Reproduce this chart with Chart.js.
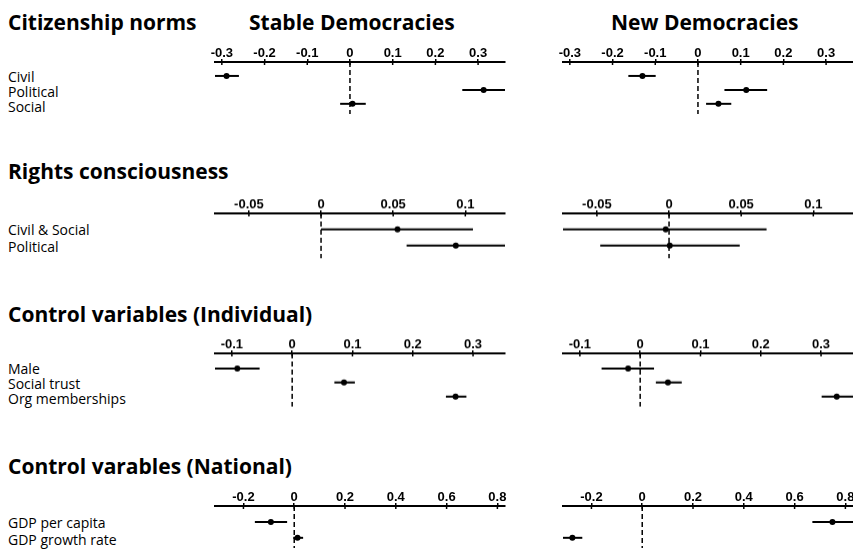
<!DOCTYPE html>
<html lang="en">
<head>
<meta charset="UTF-8">
<title>Citizenship norms - coefficient plot</title>
<script src="https://cdn.jsdelivr.net/npm/chart.js"></script>
<style>
  body { margin: 0; width: 853px; height: 552px; overflow: hidden; background: #fff; position: relative; font-family: 'Open Sans', sans-serif; color: #000; }
  .head { position: absolute; font-weight: 700; font-size: 21px; line-height: 21px; white-space: nowrap; }
  .lab { position: absolute; left: 8px; font-size: 14px; line-height: 14px; white-space: nowrap; }
  .box { position: absolute; }
</style>
</head>
<body>
<script>
// --- data ---
const columns = ['Stable Democracies', 'New Democracies'];
const sectionTitles = ['Citizenship norms', 'Rights consciousness', 'Control variables (Individual)', 'Control varables (National)'];

const normsRows = ['Civil', 'Political', 'Social'];
const normsStableEst = [-0.289, 0.313, 0.006];
const normsStableLo  = [-0.320, 0.263, -0.023];
const normsStableHi  = [-0.260, 0.363, 0.037];
const normsNewEst = [-0.130, 0.113, 0.048];
const normsNewLo  = [-0.163, 0.062, 0.019];
const normsNewHi  = [-0.099, 0.162, 0.078];

const rightsRows = ['Civil & Social', 'Political'];
const rightsStableEst = [0.053, 0.0934];
const rightsStableLo  = [0.000, 0.0593];
const rightsStableHi  = [0.1053, 0.130];
const rightsNewEst = [-0.0023, 0.0005];
const rightsNewLo  = [-0.080, -0.0477];
const rightsNewHi  = [0.0676, 0.049];

const indivRows = ['Male', 'Social trust', 'Org memberships'];
const indivStableEst = [-0.091, 0.086, 0.271];
const indivStableLo  = [-0.135, 0.070, 0.255];
const indivStableHi  = [-0.054, 0.104, 0.289];
const indivNewEst = [-0.020, 0.046, 0.326];
const indivNewLo  = [-0.064, 0.026, 0.301];
const indivNewHi  = [0.023, 0.069, 0.360];

const natRows = ['GDP per capita', 'GDP growth rate'];
const natStableEst = [-0.092, 0.013];
const natStableLo  = [-0.155, -0.004];
const natStableHi  = [-0.028, 0.035];
const natNewEst = [0.749, -0.275];
const natNewLo  = [0.670, -0.320];
const natNewHi  = [0.850, -0.236];

// axis ranges and tick steps per section
const xMins  = [-0.316, -0.0735, -0.128, -0.312];
const xMaxs  = [0.363, 0.1275, 0.353, 0.830];
const xSteps = [0.1, 0.05, 0.1, 0.2];

// --- layout ---
const colLeft = [215, 563];
const sections = [
  { title: sectionTitles[0], titleTop: 12.4, axisY: 62,    areaH: 56,   yMin: 0,     yMax: 3.73, rows: normsRows,
    panels: [[normsStableEst, normsStableLo, normsStableHi], [normsNewEst, normsNewLo, normsNewHi]] },
  { title: sectionTitles[1], titleTop: 161.4, axisY: 213.3, areaH: 48.4, yMin: 0,     yMax: 2.8,  rows: rightsRows,
    panels: [[rightsStableEst, rightsStableLo, rightsStableHi], [rightsNewEst, rightsNewLo, rightsNewHi]] },
  { title: sectionTitles[2], titleTop: 304.4, axisY: 353.3, areaH: 56.7, yMin: -0.07, yMax: 3.71, rows: indivRows,
    panels: [[indivStableEst, indivStableLo, indivStableHi], [indivNewEst, indivNewLo, indivNewHi]] },
  { title: sectionTitles[3], titleTop: 456.4, axisY: 506,   areaH: 46,   yMin: 0,     yMax: 2.64, rows: natRows,
    panels: [[natStableEst, natStableLo, natStableHi], [natNewEst, natNewLo, natNewHi]] }
];

Chart.defaults.font.family = "'Liberation Sans', Arial, sans-serif";
Chart.defaults.color = '#000';

function addText(cls, text, left, top) {
  const d = document.createElement('div');
  d.className = cls;
  d.textContent = text;
  if (left !== null) d.style.left = left + 'px';
  d.style.top = top + 'px';
  document.body.appendChild(d);
}

// column headers
addText('head', columns[0], 249, 12.4);
addText('head', columns[1], 611, 12.4);

// small marks that cross the axis line below it, like the original ticks
const crossTicks = {
  id: 'crossTicks',
  afterDraw(chart) {
    const xs = chart.scales.x;
    const ctx = chart.ctx;
    ctx.save();
    ctx.strokeStyle = '#000';
    ctx.lineWidth = 1.5;
    xs.ticks.forEach((t) => {
      const px = xs.getPixelForValue(t.value);
      ctx.beginPath();
      ctx.moveTo(px, chart.chartArea.top);
      ctx.lineTo(px, chart.chartArea.top + 3);
      ctx.stroke();
    });
    ctx.restore();
  }
};

function drawPanel(sec, si, col) {
  const [est, lo, hi] = sec.panels[col];
  const box = document.createElement('div');
  box.className = 'box';
  box.style.left = (colLeft[col] - 20) + 'px';
  box.style.top = (sec.axisY - 30) + 'px';
  box.style.width = '330px';
  box.style.height = (30 + sec.areaH) + 'px';
  const canvas = document.createElement('canvas');
  box.appendChild(canvas);
  document.body.appendChild(box);

  const datasets = [{
    // zero reference line
    data: [{ x: 0, y: sec.yMin }, { x: 0, y: sec.yMax }],
    showLine: true, borderColor: '#000', borderWidth: 1.5, borderDash: [5, 3], pointRadius: 0
  }];
  sec.rows.forEach((r, i) => {
    datasets.push({
      data: [{ x: lo[i], y: i + 1 }, { x: hi[i], y: i + 1 }],
      showLine: true, borderColor: '#000', borderWidth: 2, pointRadius: 0
    });
  });
  datasets.push({
    data: est.map((v, i) => ({ x: v, y: i + 1 })),
    pointRadius: 3, pointBackgroundColor: '#000', pointBorderWidth: 0, showLine: false
  });

  new Chart(canvas, {
    type: 'scatter',
    data: { datasets: datasets },
    plugins: [crossTicks],
    options: {
      responsive: true,
      maintainAspectRatio: false,
      animation: false,
      events: [],
      layout: { padding: { left: 20, right: 20, top: 0, bottom: 0 } },
      plugins: { legend: { display: false }, tooltip: { enabled: false } },
      scales: {
        x: {
          type: 'linear',
          position: 'top',
          min: xMins[si],
          max: xMaxs[si],
          afterFit: (scale) => { scale.height = 30; },
          border: { display: true, color: '#000', width: 2 },
          grid: { display: true, drawOnChartArea: false, drawTicks: true, tickLength: 3, color: '#000', lineWidth: 1.5 },
          ticks: {
            stepSize: xSteps[si],
            includeBounds: false,
            padding: -1,
            maxRotation: 0,
            font: { size: 13, weight: 'bold', lineHeight: 1 },
            callback: (v) => String(Math.round(v * 100) / 100)
          }
        },
        y: { type: 'linear', display: false, reverse: true, min: sec.yMin, max: sec.yMax }
      }
    }
  });
}

sections.forEach((sec, si) => {
  addText('head', sec.title, 8, sec.titleTop);
  sec.rows.forEach((r, i) => {
    // label baseline sits about 5px below the row's marks
    const rowTop = sec.axisY + (i + 1 - sec.yMin) * (sec.areaH / (sec.yMax - sec.yMin));
    addText('lab', r, 8, rowTop + 5 - 12.4);
  });
  drawPanel(sec, si, 0);
  drawPanel(sec, si, 1);
});
</script>
</body>
</html>
